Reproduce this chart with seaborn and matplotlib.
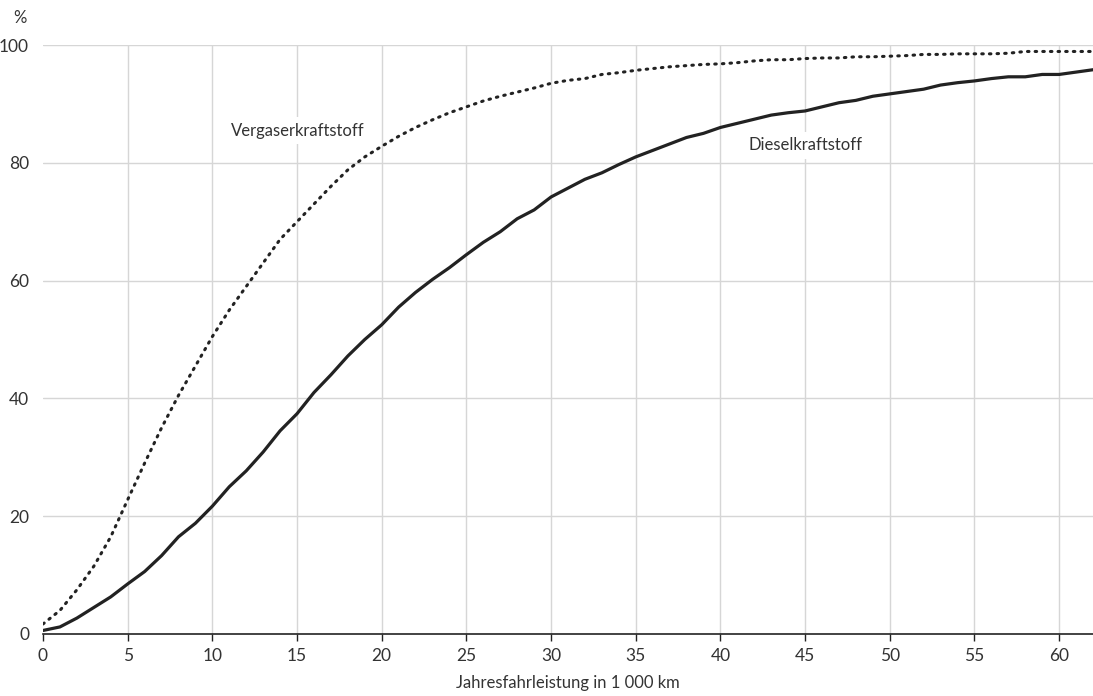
import numpy as np
import pandas as pd
import matplotlib
matplotlib.use("Agg")
import matplotlib.pyplot as plt
import seaborn as sns

km = list(range(0, 63))
vergaser = [1.7, 4.0, 7.5, 11.5, 16.5, 22.8, 29.0, 35.0, 40.5, 45.5,
            50.5, 55.0, 59.0, 63.0, 67.0, 70.0, 73.0, 76.0, 78.8, 81.0,
            82.8, 84.5, 86.0, 87.3, 88.5, 89.5, 90.5, 91.3, 92.0, 92.7,
            93.5, 94.0, 94.3, 95.0, 95.3, 95.7, 96.0, 96.3, 96.5, 96.7,
            96.8, 97.0, 97.3, 97.5, 97.5, 97.7, 97.8, 97.8, 98.0, 98.0,
            98.1, 98.2, 98.4, 98.4, 98.5, 98.5, 98.5, 98.6, 98.9, 98.9,
            98.9, 98.9, 98.9]
diesel = [0.6, 1.2, 2.7, 4.5, 6.3, 8.5, 10.6, 13.3, 16.5, 18.8,
          21.7, 25.0, 27.7, 30.9, 34.5, 37.4, 41.0, 44.0, 47.2, 50.0,
          52.5, 55.5, 58.0, 60.2, 62.2, 64.4, 66.5, 68.3, 70.5, 72.0,
          74.2, 75.7, 77.2, 78.3, 79.7, 81.0, 82.1, 83.2, 84.3, 85.0,
          86.0, 86.7, 87.4, 88.1, 88.5, 88.8, 89.5, 90.2, 90.6, 91.3,
          91.7, 92.1, 92.5, 93.2, 93.6, 93.9, 94.3, 94.6, 94.6, 95.0,
          95.0, 95.4, 95.8]
x_ticks = [0, 5, 10, 15, 20, 25, 30, 35, 40, 45, 50, 55, 60]
y_ticks = [0, 20, 40, 60, 80, 100]
label_v = "Vergaserkraftstoff"
label_d = "Dieselkraftstoff"
x_label = "Jahresfahrleistung in 1 000 km"

sns.set_theme(style="white")
plt.rcParams['font.family'] = ['Lato', 'DejaVu Sans']
text_col = "#333333"
line_col = "#222222"

df = pd.DataFrame({"km": km, "Vergaser": vergaser, "Diesel": diesel})

fig = plt.figure(figsize=(10.93, 6.96), dpi=100)
ax = fig.add_axes([43/1093, 1-634/696, 1-43/1093, (634-45)/696])

sns.lineplot(data=df, x="km", y="Vergaser", ax=ax, color=line_col,
             linewidth=2.2, linestyle=(0, (0.5, 2.0)), dash_capstyle="round")
sns.lineplot(data=df, x="km", y="Diesel", ax=ax, color=line_col,
             linewidth=2.3)

ax.set_xlim(0, 62)
ax.set_ylim(0, 100)
ax.set_xticks(x_ticks)
ax.set_yticks(y_ticks)
ax.set_xticklabels([str(t) for t in x_ticks], fontsize=12.5, color=text_col)
ax.set_yticklabels([str(t) for t in y_ticks], fontsize=12.5, color=text_col)
ax.set_xlabel(x_label, fontsize=12, color=text_col, labelpad=8)
ax.set_ylabel("")

for t in x_ticks[1:]:
    ax.axvline(t, color="#d6d6d6", linewidth=1, zorder=0)
for t in y_ticks[1:]:
    ax.axhline(t, color="#d6d6d6", linewidth=1, zorder=0)

for s in ["left", "right", "top"]:
    ax.spines[s].set_visible(False)
ax.spines["bottom"].set_color("#222222")
ax.spines["bottom"].set_linewidth(1.2)
ax.tick_params(axis="x", which="both", bottom=True, length=5, width=1,
               color="#222222", pad=5)
ax.tick_params(axis="y", which="both", left=False, pad=4)

ax.text(15.05, 85.4, label_v, ha="center", va="center", fontsize=12,
        color=text_col, bbox=dict(facecolor="white", edgecolor="none", pad=4),
        zorder=3)
ax.text(45.0, 83.0, label_d, ha="center", va="center", fontsize=12,
        color=text_col, bbox=dict(facecolor="white", edgecolor="none", pad=4),
        zorder=3)

fig.text(13/1093, 1-18/696, "%", ha="left", va="center", fontsize=12,
         color=text_col)

fig.savefig("out.png", dpi=100)
